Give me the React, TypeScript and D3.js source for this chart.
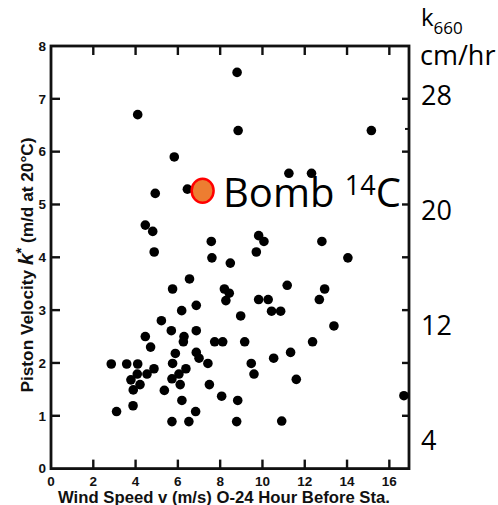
import React from 'react';
import * as d3 from 'd3';

// Wind speed (m/s, 0-24 h before station) and piston velocity (m/d at 20°C)
const windSpeed = [
  4.1, 8.8, 8.85, 15.15, 5.83, 4.93, 6.45, 11.25, 12.32, 4.46,
  4.81, 7.58, 9.82, 10.07, 12.81, 4.88, 7.61, 8.48, 9.71, 14.04,
  6.55, 5.75, 8.2, 8.43, 8.27, 11.17, 12.94, 12.69, 9.82, 10.27,
  6.87, 6.18, 8.97, 10.43, 10.86, 13.38, 5.22, 4.46, 5.69, 6.29,
  6.26, 6.87, 7.74, 8.12, 9.16, 12.37, 4.71, 5.88, 6.87, 7.0,
  7.42, 9.47, 11.33, 10.53, 2.85, 3.58, 4.1, 5.75, 4.87, 4.54,
  4.08, 3.78, 4.21, 6.38, 6.05, 6.11, 5.72, 3.89, 5.36, 7.49,
  6.19, 3.88, 3.1, 6.84, 8.07, 8.83, 5.72, 6.52, 8.78, 9.6,
  11.6, 10.91, 16.69,
];
const pistonVelocity = [
  6.7, 7.5, 6.4, 6.4, 5.9, 5.21, 5.29, 5.59, 5.59, 4.61,
  4.49, 4.3, 4.41, 4.3, 4.3, 4.1, 3.99, 3.89, 4.1, 3.99,
  3.59, 3.4, 3.4, 3.32, 3.18, 3.47, 3.4, 3.2, 3.2, 3.2,
  3.09, 2.99, 2.89, 2.98, 2.98, 2.7, 2.8, 2.5, 2.61, 2.5,
  2.4, 2.61, 2.4, 2.4, 2.4, 2.4, 2.3, 2.18, 2.2, 2.09,
  1.99, 1.99, 2.2, 2.09, 1.98, 1.98, 1.98, 1.99, 1.89, 1.79,
  1.79, 1.68, 1.59, 1.89, 1.79, 1.59, 1.7, 1.49, 1.48, 1.59,
  1.29, 1.19, 1.08, 1.08, 1.37, 1.29, 0.89, 0.89, 0.89, 1.79,
  1.69, 0.9, 1.38,
];

// Bomb 14C estimate
const bombWind = 7.17;
const bombVelocity = 5.26;

const xTicks = [0, 2, 4, 6, 8, 10, 12, 14, 16];
const yTicks = [0, 1, 2, 3, 4, 5, 6, 7, 8];
const rightMinorTicks = [6.43];
const k660Ticks = [28, 20, 12, 4];

const lettering = "'Liberation Sans', Arial, sans-serif";
const overlayFont = "'Open Sans', 'Noto Sans', sans-serif";

export default function App() {
  const x = d3.scaleLinear().domain([0, 16.93]).range([51, 409]);
  const y = d3.scaleLinear().domain([0, 8]).range([468.6, 46]);
  const k660 = d3.scaleLinear().domain([4, 28]).range([450, 105]);

  const [x0, x1] = x.range();
  const [y0, y1] = y.range();
  const innerX = xTicks.filter((t) => t > 0);
  const innerY = yTicks.filter((t) => t > 0 && t < 8);

  return (
    <svg
      width={498}
      height={505}
      viewBox="0 0 498 505"
      style={{ position: 'absolute', left: 0, top: 0, background: '#fff' }}
    >
      {/* frame */}
      <rect x={x0} y={y1} width={x1 - x0} height={y0 - y1} fill="none" stroke="#111" strokeWidth={2.8} />

      {/* inward ticks on all four sides */}
      {innerX.map((t) => (
        <g key={'xt' + t} stroke="#111" strokeWidth={2.4}>
          <line x1={x(t)} x2={x(t)} y1={y0} y2={y0 - 9} />
          <line x1={x(t)} x2={x(t)} y1={y1} y2={y1 + 9} />
        </g>
      ))}
      {innerY.map((t) => (
        <g key={'yt' + t} stroke="#111" strokeWidth={2.4}>
          <line x1={x0} x2={x0 + 9} y1={y(t)} y2={y(t)} />
          <line x1={x1} x2={x1 - 7} y1={y(t)} y2={y(t)} />
        </g>
      ))}
      {rightMinorTicks.map((t) => (
        <line key={'rm' + t} x1={x1} x2={x1 - 4} y1={y(t)} y2={y(t)} stroke="#111" strokeWidth={2} />
      ))}

      {/* tick labels */}
      {xTicks.map((t) => (
        <text
          key={'xl' + t}
          x={x(t)}
          y={486}
          textAnchor="middle"
          fontFamily={lettering}
          fontWeight="bold"
          fontSize={13.5}
          fill="#111"
        >
          {t}
        </text>
      ))}
      {yTicks.map((t) => (
        <text
          key={'yl' + t}
          x={46}
          y={y(t) + 4.8}
          textAnchor="end"
          fontFamily={lettering}
          fontWeight="bold"
          fontSize={13.5}
          fill="#111"
        >
          {t}
        </text>
      ))}

      {/* axis titles */}
      <text
        x={58}
        y={503}
        fontFamily={lettering}
        fontWeight="bold"
        fontSize={16.5}
        textLength={332}
        lengthAdjust="spacingAndGlyphs"
        fill="#111"
      >
        Wind Speed  v (m/s) O-24 Hour Before Sta.
      </text>
      <text
        transform="translate(33,265) rotate(-90)"
        textAnchor="middle"
        fontFamily={lettering}
        fontWeight="bold"
        fontSize={16.5}
        textLength={255}
        lengthAdjust="spacingAndGlyphs"
        fill="#111"
      >
        Piston Velocity{' '}
        <tspan fontStyle="italic" fontSize={20}>k</tspan>
        <tspan dy={-7} fontSize={14}>*</tspan>
        <tspan dy={7}> (m/d at 20°C)</tspan>
      </text>

      {/* observations */}
      {windSpeed.map((v, i) => (
        <circle key={'p' + i} cx={x(v)} cy={y(pistonVelocity[i])} r={4.8} fill="#000" />
      ))}

      {/* bomb 14C estimate */}
      <ellipse
        cx={x(bombWind)}
        cy={y(bombVelocity)}
        rx={11}
        ry={12}
        fill="#ED7D31"
        stroke="#FF0000"
        strokeWidth={2.5}
      />
      <text x={223} y={207} fontFamily={overlayFont} fontSize={40} fill="#000">
        Bomb{' '}
        <tspan dy={-12} fontSize={27}>14</tspan>
        <tspan dy={12} fontSize={40}>C</tspan>
      </text>

      {/* k660 scale */}
      <text x={421} y={26} fontFamily={overlayFont} fontSize={24} fill="#000">
        k<tspan dy={8} fontSize={17}>660</tspan>
      </text>
      <text x={420} y={65} fontFamily={overlayFont} fontSize={27} fill="#000">
        cm/hr
      </text>
      {k660Ticks.map((t) => (
        <text key={'k' + t} x={421} y={k660(t)} fontFamily={overlayFont} fontSize={27} fill="#000">
          {t}
        </text>
      ))}
    </svg>
  );
}
